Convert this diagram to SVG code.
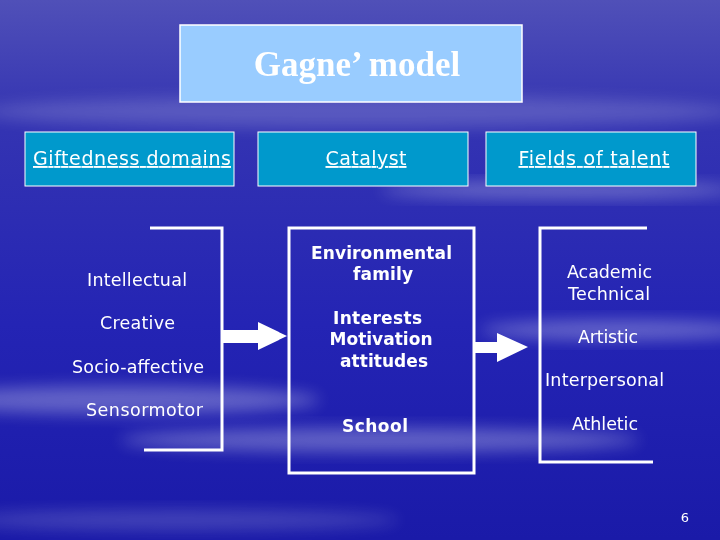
<svg xmlns="http://www.w3.org/2000/svg" width="720" height="540" viewBox="0 0 720 540">
<defs>
<linearGradient id="bg" x1="0" y1="0" x2="0" y2="1">
<stop offset="0" stop-color="#5050b8"/>
<stop offset="0.22" stop-color="#3434b2"/>
<stop offset="0.6" stop-color="#2424b4"/>
<stop offset="1" stop-color="#1a1aa8"/>
</linearGradient>
<filter id="blur" x="-20%" y="-50%" width="140%" height="200%"><feGaussianBlur stdDeviation="8"/></filter>
<style>
.hdr{fill:#0099cc;stroke:#ffffff;stroke-width:1}
.hdrt{font-family:"DejaVu Sans",Verdana,sans-serif;font-size:19px;fill:#ffffff;text-decoration:underline;text-anchor:middle}
.t{font-family:"DejaVu Sans",Verdana,sans-serif;font-size:17.5px;fill:#ffffff;text-anchor:middle}
.b{font-family:"DejaVu Sans",Verdana,sans-serif;font-size:17px;font-weight:bold;fill:#ffffff;text-anchor:middle}
.ln{fill:none;stroke:#ffffff;stroke-width:3}
.arr{fill:#ffffff}
.cl{fill:#ffffff;filter:url(#blur)}
</style>
</defs>
<rect width="720" height="540" fill="url(#bg)"/>
<g opacity="0.3">
<ellipse class="cl" cx="360" cy="112" rx="380" ry="16" opacity="0.6"/>
<ellipse class="cl" cx="120" cy="400" rx="200" ry="14"/>
<ellipse class="cl" cx="380" cy="440" rx="260" ry="12"/>
<ellipse class="cl" cx="620" cy="330" rx="140" ry="10"/>
<ellipse class="cl" cx="560" cy="190" rx="180" ry="8"/>
<ellipse class="cl" cx="180" cy="520" rx="220" ry="10" opacity="0.6"/>
</g>
<g id="title">
<rect x="180" y="25" width="342" height="77" fill="#99ccff" stroke="#ffffff" stroke-width="1.5"/>
<text x="357" y="76" font-family="'Liberation Serif','Times New Roman',serif" font-size="35" font-weight="bold" fill="#ffffff" text-anchor="middle">Gagne’ model</text>
</g>
<g id="h1"><rect class="hdr" x="25" y="132" width="209" height="54"/><text class="hdrt" x="132" y="165" textLength="198" lengthAdjust="spacing">Giftedness domains</text></g>
<g id="h2"><rect class="hdr" x="258" y="132" width="210" height="54"/><text class="hdrt" x="366" y="165" textLength="81" lengthAdjust="spacing">Catalyst</text></g>
<g id="h3"><rect class="hdr" x="486" y="132" width="210" height="54"/><text class="hdrt" x="594" y="165" textLength="151" lengthAdjust="spacing">Fields of talent</text></g>
<g id="domains">
<path class="ln" d="M150 228 H222 V450 H144"/>
<text class="t" x="137" y="286" textLength="100" lengthAdjust="spacing">Intellectual</text>
<text class="t" x="137.5" y="329" textLength="75" lengthAdjust="spacing">Creative</text>
<text class="t" x="138" y="373" textLength="132" lengthAdjust="spacing">Socio-affective</text>
<text class="t" x="144.5" y="416" textLength="117" lengthAdjust="spacing">Sensormotor</text>
</g>
<g id="catalyst">
<rect class="ln" x="289" y="228" width="185" height="245"/>
<text class="b" x="381.5" y="259" textLength="141" lengthAdjust="spacing">Environmental</text>
<text class="b" x="383" y="280" textLength="60" lengthAdjust="spacing">family</text>
<text class="b" x="377.5" y="324" textLength="89" lengthAdjust="spacing">Interests</text>
<text class="b" x="381" y="345" textLength="103" lengthAdjust="spacing">Motivation</text>
<text class="b" x="384" y="367" textLength="88" lengthAdjust="spacing">attitudes</text>
<text class="b" x="375" y="432" textLength="66" lengthAdjust="spacing">School</text>
</g>
<g id="talents">
<path class="ln" d="M647 228 H540 V462 H653"/>
<text class="t" x="609.5" y="278" textLength="85" lengthAdjust="spacing">Academic</text>
<text class="t" x="609" y="300" textLength="82" lengthAdjust="spacing">Technical</text>
<text class="t" x="608" y="343" textLength="60" lengthAdjust="spacing">Artistic</text>
<text class="t" x="604.5" y="386" textLength="119" lengthAdjust="spacing">Interpersonal</text>
<text class="t" x="605" y="430" textLength="66" lengthAdjust="spacing">Athletic</text>
</g>
<g id="connectors">
<path class="arr" d="M222 330 H258 V322 L287 336 L258 350 V343 H222 Z"/>
<path class="arr" d="M474 342 H497 V333 L528 347 L497 362 V353 H474 Z"/>
</g>
<text x="685" y="522" font-family="'DejaVu Sans',Verdana,sans-serif" font-size="13" fill="#ffffff" text-anchor="middle">6</text>
</svg>
